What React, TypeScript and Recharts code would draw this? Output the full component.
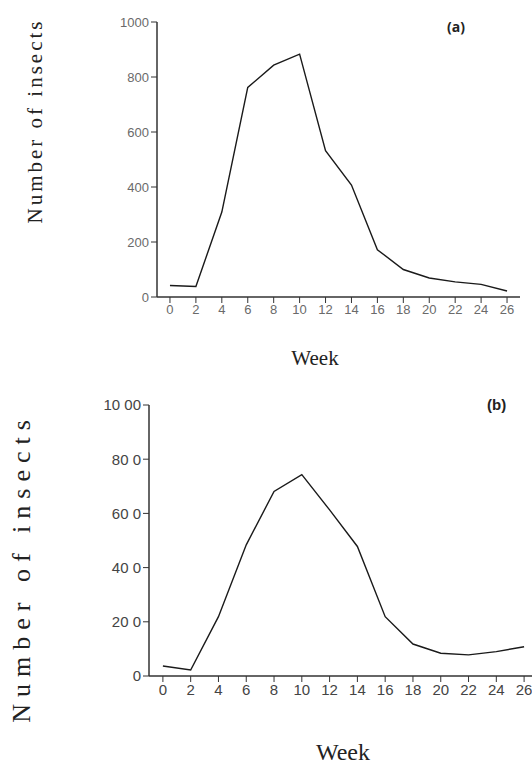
import React from "react";
import { Line, LineChart, XAxis, YAxis } from "recharts";

// weeks on the x axis, insect counts
const weeks = [0, 2, 4, 6, 8, 10, 12, 14, 16, 18, 20, 22, 24, 26];
const insectsA = [42, 38, 309, 762, 843, 883, 532, 407, 172, 100, 69, 55, 46, 22];
const insectsB = [37, 22, 219, 484, 681, 743, 613, 478, 219, 118, 84, 78, 90, 108];

const yTicks = [0, 200, 400, 600, 800, 1000];
const yTickTextB = ["0", "20 0", "40 0", "60 0", "80 0", "10 00"];

const dataA = weeks.map((w, i) => ({ week: w, count: insectsA[i] }));
const dataB = weeks.map((w, i) => ({ week: w, count: insectsB[i] }));

const X_DOMAIN = [-1, 27];
const serif = "'Liberation Serif', 'Times New Roman', serif";

// tick and line styling kept in css so the axes keep their default props
const css = `
.pa .recharts-cartesian-axis-tick-value { font-family: 'Liberation Sans', sans-serif; font-size: 13px; fill: #6a6a6a; }
.pb .recharts-cartesian-axis-tick-value { font-family: 'Liberation Sans Narrow', 'Liberation Sans', sans-serif; font-size: 15px; fill: #444; }
.pa .xAxis .recharts-cartesian-axis-tick-value { transform: translateY(6px); }
.pb .xAxis .recharts-cartesian-axis-tick-value { transform: translateY(7px); }
.yAxis .recharts-cartesian-axis-tick-value { transform: translateX(-6px); }
.recharts-cartesian-axis-line { stroke-width: 1.5px; }
.recharts-line-curve { stroke-width: 1.4px; }
`;

function Title({ text, cx, cy, size, spacing = 0, vertical = false }: any) {
  return (
    <div
      style={{
        position: "absolute",
        left: cx,
        top: cy,
        transform: `translate(-50%, -50%)${vertical ? " rotate(-90deg)" : ""}`,
        whiteSpace: "nowrap",
        lineHeight: 1,
        fontFamily: serif,
        fontSize: size,
        letterSpacing: spacing,
        color: "#222",
      }}
    >
      {text}
    </div>
  );
}

export default function App() {
  return (
    <div
      style={{
        position: "absolute",
        left: 0,
        top: 0,
        width: 532,
        height: 766,
        overflow: "hidden",
        background: "#fff",
      }}
    >
      <style>{css}</style>

      {/* panel (a) */}
      <div className="pa" style={{ position: "absolute", left: 0, top: 0 }}>
        <LineChart width={532} height={372} data={dataA} margin={{ top: 22, right: 12, bottom: 0, left: 0 }}>
          <XAxis dataKey="week" type="number" domain={X_DOMAIN} ticks={weeks} interval={0} height={75} stroke="#333" />
          <YAxis width={157} domain={[0, 1000]} ticks={yTicks} stroke="#333" />
          <Line dataKey="count" stroke="#1a1a1a" dot={false} isAnimationActive={false} />
        </LineChart>
        <div
          style={{
            position: "absolute",
            left: 447,
            top: 17,
            fontFamily: "'Open Sans', sans-serif",
            fontWeight: 700,
            fontSize: 14,
            color: "#222",
          }}
        >
          (a)
        </div>
      </div>

      {/* panel (b) */}
      <div className="pb" style={{ position: "absolute", left: 0, top: 380 }}>
        <LineChart width={545} height={386} data={dataB} margin={{ top: 25, right: 7, bottom: 0, left: 0 }}>
          <XAxis dataKey="week" type="number" domain={X_DOMAIN} ticks={weeks} interval={0} height={90} stroke="#333" />
          <YAxis
            width={149}
            domain={[0, 1000]}
            ticks={yTicks}
            stroke="#333"
            tickFormatter={(v: number) => yTickTextB[yTicks.indexOf(v)]}
          />
          <Line dataKey="count" stroke="#1a1a1a" dot={false} isAnimationActive={false} />
        </LineChart>
        <div
          style={{
            position: "absolute",
            left: 487,
            top: 16,
            fontFamily: "'Liberation Sans', sans-serif",
            fontWeight: 700,
            fontSize: 15,
            color: "#222",
          }}
        >
          (b)
        </div>
      </div>

      <Title text="Number of insects" cx={35} cy={121} size={21} spacing={3} vertical />
      <Title text="Week" cx={315} cy={358} size={21} />
      <Title text="Number of insects" cx={22} cy={568} size={26} spacing={7} vertical />
      <Title text="Week" cx={343} cy={752} size={24} />
    </div>
  );
}
